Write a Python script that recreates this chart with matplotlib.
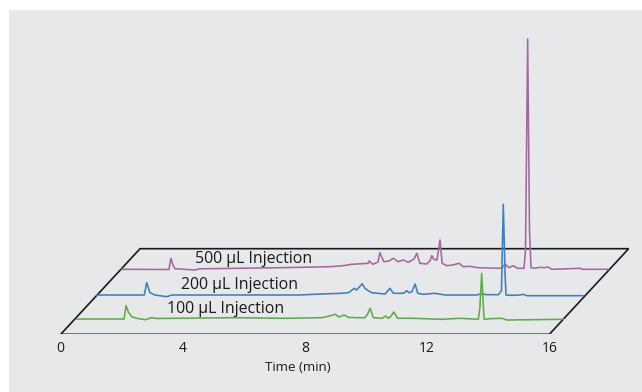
import matplotlib
matplotlib.use("Agg")
import matplotlib.pyplot as plt
from matplotlib.patches import Polygon

# ---------------- data (time in min, signal in arbitrary px-like units) ----------------
names = ["100 µL Injection", "200 µL Injection", "500 µL Injection"]
colors = ["#5cad48", "#3d7fc1", "#a5679f"]

t_100 = [0.04, 1.59, 1.654, 1.73, 1.84, 2.00, 2.28, 2.50, 2.66, 5.22, 6.86, 8.06, 8.28, 8.50,
         8.63, 8.80, 8.93, 9.21, 9.48, 9.56, 9.65, 9.75, 10.03, 10.16, 10.24, 10.33, 10.42,
         10.55, 11.06, 11.99, 12.59, 13.19, 13.24, 13.30, 13.35, 13.38, 13.58, 13.96, 14.12, 15.97]
v_100 = [-0.7, -0.7, 12.6, 6.3, 1.6, 0.0, -1.4, 0.6, -0.2, 0.6, 0.0, 0.6, 2.0, 4.0,
         1.3, 3.3, 1.0, 0.6, 0.6, 4.0, 10.0, 0.6, 0.0, 2.3, 0.0, 2.0, 6.3,
         0.0, 0.0, -1.0, 0.0, -1.0, 10.0, 45.0, 15.0, -1.0, -0.4, 0.0, -1.7, -1.0]

t_200 = [0.01, 1.565, 1.644, 1.75, 1.915, 2.30, 2.46, 6.61, 7.37, 8.03, 8.25, 8.44, 8.52, 8.70,
         8.79, 8.90, 9.01, 9.45, 9.61, 9.72, 10.05, 10.16, 10.23, 10.33, 10.43, 10.52, 10.70,
         11.08, 11.41, 12.45, 12.61, 12.78, 13.16, 13.26, 13.32, 13.38, 13.41, 13.60, 13.87,
         13.98, 14.09, 15.93]
v_200 = [0.7, 0.7, 13.0, 3.0, 0.7, -1.0, 0.7, 0.7, 1.7, 2.4, 3.0, 7.4, 5.7, 12.0,
         7.4, 5.0, 3.0, 1.7, 7.4, 2.4, 2.4, 5.0, 3.0, 4.0, 11.7, 2.4, 1.4,
         2.4, 0.7, 0.7, 2.0, 1.0, 1.0, 5.0, 91.4, 20.0, 0.7, 0.4, 0.7,
         1.4, 0.0, 0.0]

t_500 = [0.05, 1.595, 1.66, 1.725, 1.79, 2.446, 2.61, 5.23, 6.87, 7.29, 7.58, 8.12, 8.15, 8.27,
         8.44, 8.50, 8.63, 8.80, 8.94, 9.10, 9.27, 9.43, 9.62, 9.71, 9.81, 10.03, 10.14, 10.20,
         10.27, 10.37, 10.42, 10.47, 10.50, 10.54, 10.69, 10.89, 11.09, 11.23, 11.45, 11.72,
         12.38, 12.50, 12.60, 12.73, 12.87, 13.01, 13.22, 13.27, 13.34, 13.40, 13.45, 13.58,
         13.74, 13.90, 14.01, 14.13, 15.06, 15.12, 15.98]
v_500 = [0.7, 0.5, 11.7, 5.0, 1.3, 0.0, 1.2, 2.3, 3.3, 4.3, 5.7, 6.7, 9.0, 5.7,
         8.0, 17.3, 8.3, 9.0, 11.7, 8.3, 10.0, 7.7, 11.0, 16.7, 6.7, 6.0, 9.0, 14.3,
         10.7, 10.0, 20.0, 30.0, 20.0, 6.7, 4.3, 5.0, 6.7, 3.3, 3.7, 2.3,
         1.7, 2.0, 5.7, 2.3, 4.3, 1.7, 1.7, 20.0, 231.0, 40.0, 2.3, 1.7,
         2.7, 2.3, 3.0, 0.7, 1.7, 0.7, 0.7]

times = [t_100, t_200, t_500]
values = [v_100, v_200, v_500]

tick_values = [0, 4, 8, 12, 16]
tick_labels = ["0", "4", "8", "12", "16"]
x_title = "Time (min)"

# ---------------- layout / style ----------------
W, H, DPI = 642, 392, 100
px_per_min = 30.54
x0_px = 60.7            # pixel position of t = 0 on the front edge
front_y_px = 334.3      # pixel row of the front edge of the floor

depth_dx = [0.485, 1.172, 1.95]   # horizontal shift (min) for each trace row
depth_dy = [16.0, 38.6, 64.3]     # vertical shift (px units) for each trace row
floor_dx, floor_dy = 2.597, 85.6
label_dx = [4.90, 4.68, 4.38]
label_dy = [9.6, 10.4, 10.7]

plt.rcParams["font.family"] = ["Open Sans", "DejaVu Sans"]

fig = plt.figure(figsize=(W / DPI, H / DPI), dpi=DPI)
fig.patch.set_facecolor("white")

# gray panel as a background axes
bg = fig.add_axes([9 / W, 0, 1 - 9 / W, 1 - 10 / H], zorder=-5)
bg.set_facecolor("#e7e8ea")
bg.set_xticks([])
bg.set_yticks([])
for s in bg.spines.values():
    s.set_visible(False)

bottom = (H - front_y_px) / H
ax = fig.add_axes([0, bottom, 1, 1 - bottom], zorder=1)
ax.set_facecolor("none")
ax.set_xlim(-x0_px / px_per_min, (W - x0_px) / px_per_min)
ax.set_ylim(0, front_y_px)
for s in ax.spines.values():
    s.set_visible(False)
ax.set_yticks([])
ax.set_xticks(tick_values)
ax.set_xticklabels(tick_labels)
ax.tick_params(axis="x", length=0, pad=4.5, labelsize=10, labelcolor="#1a1a1a")

# floor parallelogram
floor = Polygon([(0, 0), (16, 0), (16 + floor_dx, floor_dy), (floor_dx, floor_dy)],
                closed=True, facecolor="none", edgecolor="#1a1a1a", linewidth=1.2,
                joinstyle="miter", zorder=1)
ax.add_patch(floor)

# traces, back to front
for i in [2, 1, 0]:
    xs = [t + depth_dx[i] for t in times[i]]
    ys = [v + depth_dy[i] for v in values[i]]
    ax.plot(xs, ys, color=colors[i], linewidth=1.15, solid_joinstyle="round", zorder=2 + (2 - i))
    ax.text(label_dx[i] + depth_dx[i], label_dy[i] + depth_dy[i], names[i],
            ha="center", va="center", fontsize=11.4, color="#1a1a1a", zorder=6)

ax.text(7.75, -33.4, x_title, ha="center", va="center", fontsize=9.5, color="#1a1a1a",
        clip_on=False)

fig.savefig("out.png", dpi=DPI)
